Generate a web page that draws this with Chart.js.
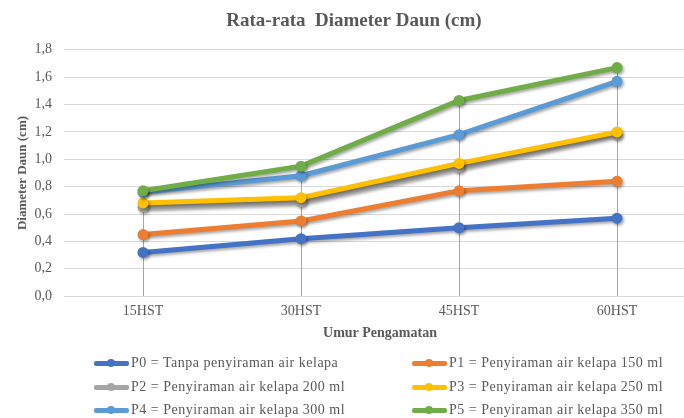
<!DOCTYPE html>
<html>
<head>
<meta charset="utf-8">
<script src="https://cdn.jsdelivr.net/npm/chart.js@4.4.1/dist/chart.umd.min.js"></script>
<style>
    html, body { margin: 0; padding: 0; background: #fff; overflow: hidden; }
    #wrap { position: relative; width: 706px; height: 418px; }
    #legend { position: absolute; left: 0; top: 0; width: 706px; height: 418px; pointer-events: none;
        font-family: 'Liberation Serif', serif; font-size: 14px; letter-spacing: 0.5px; color: #595959; }
    .item { position: absolute; height: 20px; display: flex; align-items: center; white-space: nowrap; }
    .sym { position: relative; width: 35px; height: 12px; margin-right: 2px; }
    .sym i { position: absolute; left: 0; right: 0; top: 4px; height: 4.5px; border-radius: 2px; }
    .sym b { position: absolute; left: 13px; top: 2px; width: 8px; height: 8px; border-radius: 50%; }
</style>
</head>
<body>
<div id="wrap">
    <canvas id="chart" width="706" height="418"></canvas>
    <div id="legend"></div>
</div>
<script>
// Data
const categories = ['15HST', '30HST', '45HST', '60HST'];
const seriesNames = [
    'P0 = Tanpa penyiraman air kelapa',
    'P1 = Penyiraman air kelapa 150 ml',
    'P2 = Penyiraman air kelapa 200 ml',
    'P3 = Penyiraman air kelapa 250 ml',
    'P4 = Penyiraman air kelapa 300 ml',
    'P5 = Penyiraman air kelapa 350 ml'
];
const p0 = [0.32, 0.42, 0.50, 0.57];
const p1 = [0.45, 0.55, 0.77, 0.84];
const p2 = [0.65, 0.69, 0.94, 1.18];
const p3 = [0.68, 0.72, 0.97, 1.20];
const p4 = [0.76, 0.88, 1.18, 1.57];
const p5 = [0.77, 0.95, 1.43, 1.67];
const yTicks = [0, 0.2, 0.4, 0.6, 0.8, 1.0, 1.2, 1.4, 1.6, 1.8];
const colors = ['#4472c4', '#ed7d31', '#a5a5a5', '#ffc000', '#5b9bd5', '#70ad47'];

const seriesValues = [p0, p1, p2, p3, p4, p5];
const textColor = '#595959';

// Drop lines from the highest point of every category down to the axis
const dropLines = {
    id: 'dropLines',
    beforeDatasetsDraw(chart) {
        const ctx = chart.ctx;
        const x = chart.scales.x;
        const y = chart.scales.y;
        ctx.save();
        ctx.strokeStyle = '#a6a6a6';
        ctx.lineWidth = 1;
        categories.forEach((c, i) => {
            const top = Math.max(...seriesValues.map((s) => s[i]));
            const px = Math.round(x.getPixelForValue(i)) + 0.5;
            ctx.beginPath();
            ctx.moveTo(px, y.getPixelForValue(top));
            ctx.lineTo(px, y.getPixelForValue(0));
            ctx.stroke();
        });
        ctx.restore();
    }
};

// Soft shadow under every series
const lineShadow = {
    id: 'lineShadow',
    beforeDatasetDraw(chart) {
        const ctx = chart.ctx;
        ctx.save();
        ctx.shadowColor = 'rgba(0, 0, 0, 0.35)';
        ctx.shadowBlur = 3;
        ctx.shadowOffsetX = 1.5;
        ctx.shadowOffsetY = 2;
    },
    afterDatasetDraw(chart) {
        chart.ctx.restore();
    }
};

new Chart(document.getElementById('chart'), {
    type: 'line',
    data: {
        labels: categories,
        datasets: seriesValues.map((values, i) => {
            return {
                label: seriesNames[i],
                data: values,
                borderColor: colors[i],
                backgroundColor: colors[i],
                borderWidth: 5,
                pointRadius: 5.5,
                pointBorderWidth: 0,
                pointHoverRadius: 5.5,
                tension: 0,
                order: seriesValues.length - i
            };
        })
    },
    options: {
        responsive: false,
        animation: false,
        events: [],
        layout: {
            padding: { left: 12, right: 10, top: 0, bottom: 70 }
        },
        plugins: {
            legend: { display: false },
            tooltip: { enabled: false },
            title: {
                display: true,
                text: 'Rata-rata  Diameter Daun (cm)',
                color: textColor,
                font: { family: 'Liberation Serif', size: 19, weight: 'bold', lineHeight: 1.2 },
                padding: { top: 10, bottom: 17 }
            }
        },
        scales: {
            x: {
                offset: true,
                grid: { display: false, drawTicks: false },
                border: { display: false },
                ticks: {
                    color: textColor,
                    padding: 8.5,
                    font: { family: 'Liberation Serif', size: 14, lineHeight: 1 }
                },
                title: {
                    display: true,
                    text: 'Umur Pengamatan',
                    color: textColor,
                    font: { family: 'Liberation Serif', size: 14, weight: 'bold', lineHeight: 1.2 },
                    padding: { top: -2, bottom: 6 }
                }
            },
            y: {
                min: 0,
                max: 1.8,
                afterFit: (scale) => {
                    scale.width = 52;
                },
                afterBuildTicks: (scale) => {
                    scale.ticks = yTicks.map((v) => ({ value: v }));
                },
                grid: { color: '#d9d9d9', lineWidth: 1, drawTicks: false },
                border: { display: false },
                ticks: {
                    color: textColor,
                    padding: 12,
                    font: { family: 'Liberation Serif', size: 14 },
                    callback: (v) => v.toFixed(1).replace('.', ',')
                },
                title: {
                    display: true,
                    text: 'Diameter Daun (cm)',
                    color: textColor,
                    font: { family: 'Liberation Serif', size: 13, weight: 'bold', lineHeight: 1.2 },
                    padding: { top: 3, bottom: 0 }
                }
            }
        }
    },
    plugins: [dropLines, lineShadow]
});

// Legend in two columns
const legend = document.getElementById('legend');
const colX = [94, 412];
const rowY = [353, 377, 400];
seriesNames.forEach((name, i) => {
    const item = document.createElement('div');
    item.className = 'item';
    item.style.left = colX[i % 2] + 'px';
    item.style.top = rowY[Math.floor(i / 2)] + 'px';
    item.innerHTML = '<span class="sym"><i style="background:' + colors[i] + '"></i>' +
        '<b style="background:' + colors[i] + '"></b></span><span></span>';
    item.lastChild.textContent = name;
    legend.appendChild(item);
});
</script>
</body>
</html>
